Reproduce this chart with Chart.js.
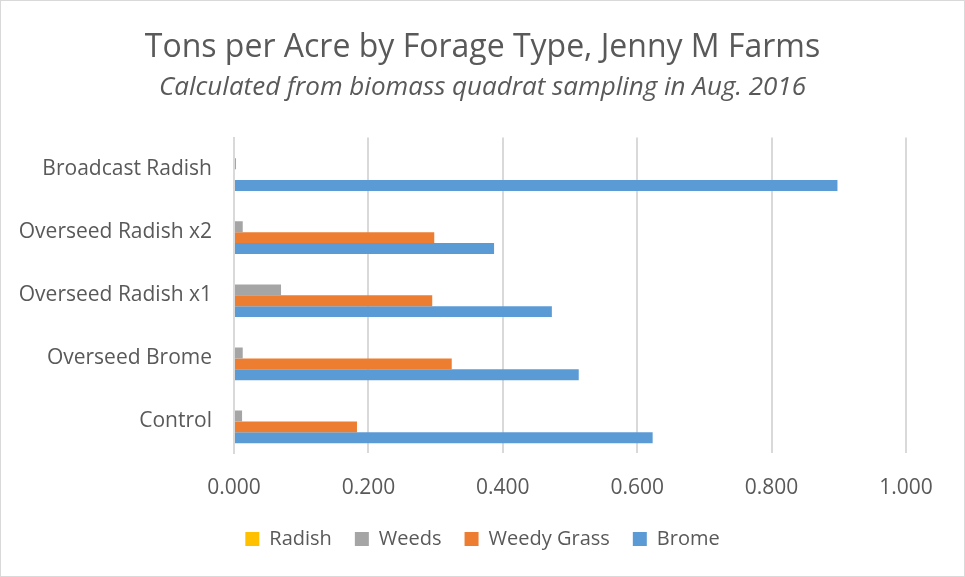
<!DOCTYPE html>
<html>
<head>
<meta charset="utf-8">
<script src="https://cdn.jsdelivr.net/npm/chart.js@4"></script>
<style>
  html, body { margin: 0; padding: 0; background: #fff; }
  #wrap { position: relative; width: 963px; height: 575px; border: 1px solid #d9d9d9; }
</style>
</head>
<body>
<div id="wrap"><canvas id="chart" width="963" height="575"></canvas></div>
<script>
// Forage biomass chart
var categories = ['Broadcast Radish', 'Overseed Radish x2', 'Overseed Radish x1', 'Overseed Brome', 'Control'];
var radish     = [0, 0, 0, 0, 0];
var weeds      = [0.003, 0.013, 0.070, 0.013, 0.012];
var weedyGrass = [0, 0.298, 0.295, 0.324, 0.183];
var brome      = [0.898, 0.387, 0.473, 0.513, 0.623];
var xTicks     = [0, 0.2, 0.4, 0.6, 0.8, 1.0];

var TEXT = '#595959';
var GRID = '#d9d9d9';
var FONT = "'Open Sans', 'Liberation Sans', sans-serif";

function ds(label, data, color) {
  return {
    label: label,
    data: data,
    backgroundColor: color,
    borderWidth: 0,
    categoryPercentage: 0.69,
    barPercentage: 1.0
  };
}

new Chart(document.getElementById('chart').getContext('2d'), {
  type: 'bar',
  data: {
    labels: categories,
    datasets: [
      ds('Radish', radish, '#FFC000'),
      ds('Weeds', weeds, '#A5A5A5'),
      ds('Weedy Grass', weedyGrass, '#ED7D31'),
      ds('Brome', brome, '#5B9BD5')
    ]
  },
  options: {
    indexAxis: 'y',
    responsive: false,
    animation: false,
    layout: { padding: { left: 0, right: 0, top: 0, bottom: 17 } },
    plugins: {
      title: {
        display: true,
        text: 'Tons per Acre by Forage Type, Jenny M Farms',
        color: TEXT,
        font: { family: FONT, size: 32, weight: 'normal' },
        padding: { top: 28, bottom: 5 }
      },
      subtitle: {
        display: true,
        text: 'Calculated from biomass quadrat sampling in Aug. 2016',
        color: TEXT,
        font: { family: FONT, size: 26, style: 'italic' },
        padding: { top: 0, bottom: 34 }
      },
      legend: {
        position: 'bottom',
        labels: {
          color: TEXT,
          font: { family: FONT, size: 20 },
          boxWidth: 14,
          boxHeight: 14,
          padding: 23
        }
      },
      tooltip: { enabled: false }
    },
    scales: {
      x: {
        min: 0,
        max: 1,
        afterBuildTicks: function(scale) {
          scale.ticks = xTicks.map(function(v) { return { value: v }; });
        },
        afterFit: function(scale) { scale.height = 53; },
        ticks: {
          color: TEXT,
          font: { family: FONT, size: 21 },
          padding: 22,
          callback: function(v) { return Number(v).toFixed(3); }
        },
        grid: { color: GRID, lineWidth: 2, drawTicks: false },
        border: { display: false }
      },
      y: {
        afterFit: function(scale) { scale.width = 233; },
        ticks: {
          color: TEXT,
          font: { family: FONT, size: 21 },
          padding: 22
        },
        grid: { display: false, drawTicks: false },
        border: { display: true, color: GRID, width: 2 }
      },
      // empty right-hand spacer so the plot ends at 1.000 while titles stay centred
      spacer: {
        type: 'linear',
        axis: 'y',
        position: 'right',
        afterFit: function(scale) { scale.width = 58; },
        ticks: { display: false },
        grid: { display: false, drawTicks: false },
        border: { display: false }
      }
    }
  }
});
</script>
</body>
</html>
